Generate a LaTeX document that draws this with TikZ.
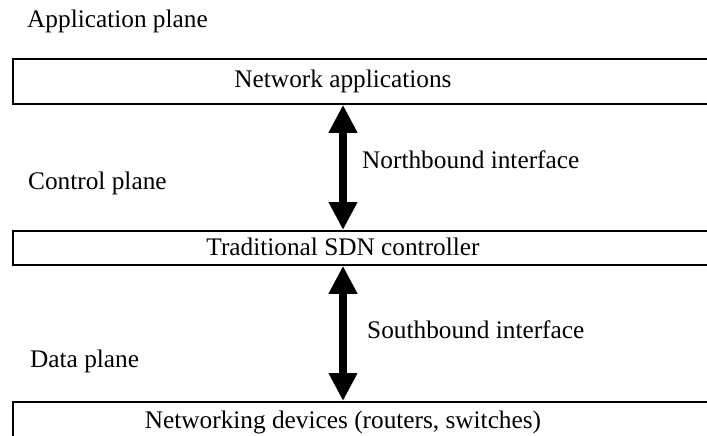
\documentclass[tikz,border=0pt]{standalone}
\usepackage{fontspec}
\setmainfont{Liberation Serif}
\usetikzlibrary{arrows.meta}
\begin{document}
\begin{tikzpicture}[x=1pt,y=-1pt,
  box/.style={draw, line width=1.8pt, inner sep=0pt, anchor=north west},
  txt/.style={inner sep=0pt, font=\fontsize{25.3}{30}\selectfont},
  dbl/.style={line width=8.5pt, {Triangle[length=28pt,width=27pt]}-{Triangle[length=28pt,width=27pt]}}
]
\useasboundingbox (0,0) rectangle (707,436);
\clip (0,0) rectangle (707,436);
\coordinate (ax) at (343,0);
% boxes
\node[box, minimum width=720pt, minimum height=45pt] (app) at (12,58) {};
\node[box, minimum width=720pt, minimum height=34pt] (ctl) at (12,230) {};
\node[box, minimum width=720pt, minimum height=50pt] (dev) at (12,401) {};
% box texts
\node[txt, anchor=base] (appT) at (343,88) {Network applications};
\node[txt, anchor=base] (ctlT) at (343,255) {Traditional SDN controller};
\node[txt, anchor=base] (devT) at (343,428) {Networking devices (routers, switches)};
% plane labels
\node[txt, anchor=base west] (apl) at (27,28) {Application plane};
\node[txt, anchor=base west] (cpl) at (28,189) {Control plane};
\node[txt, anchor=base west] (dpl) at (30,367) {Data plane};
% interfaces
\node[txt, anchor=base west] (nb) at (362,168) {Northbound interface};
\node[txt, anchor=base west] (sb) at (367,338) {Southbound interface};
% arrows
\draw[dbl] (app.south -| ax) -- (ctl.north -| ax);
\draw[dbl] (ctl.south -| ax) -- (dev.north -| ax);
\end{tikzpicture}
\end{document}
